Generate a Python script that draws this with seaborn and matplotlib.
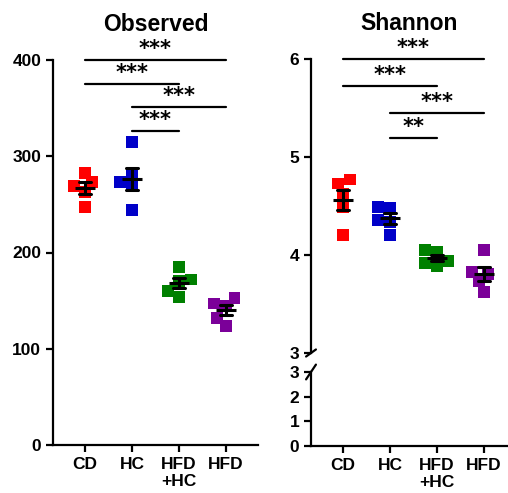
import numpy as np
import pandas as pd
import matplotlib
matplotlib.use("Agg")
import matplotlib.pyplot as plt
import seaborn as sns

sns.set_style("ticks")
plt.rcParams['font.family'] = ['Liberation Sans', 'DejaVu Sans']
plt.rcParams['font.weight'] = 'bold'
for k in ['text.color', 'axes.labelcolor', 'xtick.color', 'ytick.color', 'axes.edgecolor']:
    plt.rcParams[k] = 'black'

groups = ["CD", "HC", "HFD+HC", "HFD"]
tick_labels = ["CD", "HC", "HFD\n+HC", "HFD"]
colors = ["#FF0000", "#0000C8", "#008000", "#7B0099"]

# observed OTUs per sample
obs_cd = [283, 269, 273, 263, 247]
obs_hc = [315, 273, 282, 269, 244]
obs_hfdhc = [185, 170, 172, 160, 154]
obs_hfd = [153, 147, 144, 132, 124]

# shannon index per sample
sha_cd = [4.77, 4.73, 4.62, 4.49, 4.20]
sha_hc = [4.49, 4.48, 4.36, 4.34, 4.20]
sha_hfdhc = [4.05, 4.03, 3.94, 3.92, 3.89]
sha_hfd = [4.05, 3.83, 3.81, 3.73, 3.62]

# significance brackets: (group a, group b, height, label)
obs_sig = [(0, 3, 400, "***"), (0, 2, 375, "***"), (1, 3, 351, "***"), (1, 2, 326, "***")]
sha_sig = [(0, 3, 6.0, "***"), (0, 2, 5.72, "***"), (1, 3, 5.45, "***"), (1, 2, 5.19, "**")]


def make_df(vals):
    rows = []
    for g, v in zip(groups, vals):
        for x in v:
            rows.append({"group": g, "value": x})
    return pd.DataFrame(rows)


df_obs = make_df([obs_cd, obs_hc, obs_hfdhc, obs_hfd])
df_sha = make_df([sha_cd, sha_hc, sha_hfdhc, sha_hfd])

W, H = 508, 493
fig = plt.figure(figsize=(W / 100, H / 100), dpi=100)

ax1 = fig.add_axes([53 / W, 48 / H, 205 / W, 385 / H])
ax2 = fig.add_axes([311 / W, 140 / H, 197 / W, 294 / H])
ax3 = fig.add_axes([311 / W, 47 / H, 197 / W, 74 / H])

lw = 1.6


def draw_points(ax, df):
    sns.swarmplot(data=df, x="group", y="value", hue="group", order=groups,
                  hue_order=groups, palette=colors, marker="s", size=8.5,
                  linewidth=0, legend=False, ax=ax, zorder=2, warn_thresh=1)
    sns.pointplot(data=df, x="group", y="value", order=groups, errorbar="se",
                  color="black", linestyle="none", marker="_", markersize=15,
                  markeredgewidth=2.2, capsize=0.25, err_kws={"linewidth": 2.2},
                  ax=ax, zorder=5)


def draw_sig(ax, sig):
    for a, b, h, lab in sig:
        ax.plot([a, b], [h, h], color="black", lw=lw, clip_on=False)
        ax.annotate(lab, xy=((a + b) / 2, h), xytext=(0, 1), textcoords="offset points",
                    ha="center", va="bottom", fontsize=15, fontweight="bold",
                    family="DejaVu Sans", annotation_clip=False)


def style(ax):
    for s in ["left", "bottom"]:
        ax.spines[s].set_linewidth(lw)
    sns.despine(ax=ax)
    ax.tick_params(width=lw, length=5, labelsize=12.5)
    for t in ax.get_yticklabels() + ax.get_xticklabels():
        t.set_fontweight("bold")
    ax.set_xlabel("")
    ax.set_ylabel("")


# Observed panel
draw_points(ax1, df_obs)
draw_sig(ax1, obs_sig)
ax1.set_xlim(-0.68, 3.68)
ax1.set_ylim(0, 400)
ax1.set_yticks([0, 100, 200, 300, 400])
ax1.set_xticks(range(4), tick_labels)
style(ax1)
ax1.set_title("Observed", fontsize=16.5, fontweight="bold", pad=21)

# Shannon panel, broken axis
draw_points(ax2, df_sha)
draw_sig(ax2, sha_sig)
ax2.set_xlim(-0.68, 3.51)
ax2.set_ylim(3, 6)
ax2.set_yticks([3, 4, 5, 6])
style(ax2)
ax2.spines["bottom"].set_visible(False)
ax2.tick_params(axis="x", bottom=False, labelbottom=False)
ax2.set_title("Shannon", fontsize=16.5, fontweight="bold", pad=21)

ax3.set_xlim(-0.68, 3.51)
ax3.set_ylim(0, 3)
ax3.set_yticks([0, 1, 2, 3])
ax3.set_xticks(range(4), tick_labels)
style(ax3)

# break marks
d = dict(color="black", lw=lw, clip_on=False)
ax2.plot([-0.025, 0.025], [-0.012, 0.012], transform=ax2.transAxes, **d)
ax3.plot([-0.025, 0.025], [0.9, 1.1], transform=ax3.transAxes, **d)

fig.savefig("out.png", dpi=100)
